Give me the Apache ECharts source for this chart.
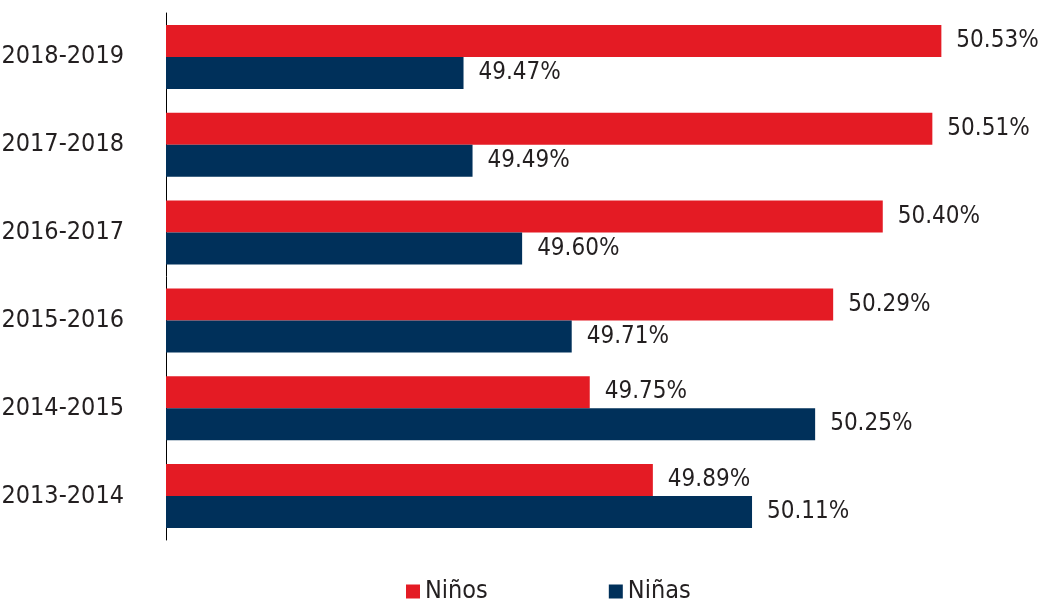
<!DOCTYPE html>
<html>
<head>
<meta charset="utf-8">
<script src="https://cdn.jsdelivr.net/npm/echarts@6/dist/echarts.min.js"></script>
<style>
html,body{margin:0;padding:0;background:#fff;}
#c{width:1043px;height:607px;}
</style>
</head>
<body>
<div id="c"></div>
<script>
const categories = ['2018-2019', '2017-2018', '2016-2017', '2015-2016', '2014-2015', '2013-2014'];
const ninos = [50.53, 50.51, 50.40, 50.29, 49.75, 49.89];
const ninas = [49.47, 49.49, 49.60, 49.71, 50.25, 50.11];
const seriesNames = ['Niños', 'Niñas'];

const FONT = '"Liberation Sans Narrow", "DejaVu Sans Condensed", sans-serif';
const TXT = '#231f20';
const chart = echarts.init(document.getElementById('c'), null, {renderer: 'canvas'});
const fmt = p => p.value.toFixed(2) + '%';
chart.setOption({
  animation: false,
  textStyle: {fontFamily: FONT},
  grid: {left: 166, right: 25, top: 13, bottom: 67, containLabel: false, outerBoundsMode: 'none'},
  legend: {
    data: seriesNames,
    left: 406,
    top: 579,
    padding: 0,
    itemWidth: 14,
    itemHeight: 14,
    itemGap: 121,
    icon: 'rect',
    textStyle: {fontFamily: FONT, fontSize: 25, color: TXT}
  },
  xAxis: {
    type: 'value',
    min: 48.81,
    max: 50.7,
    show: false,
    splitLine: {show: false}
  },
  yAxis: {
    type: 'category',
    data: categories,
    inverse: true,
    axisLine: {show: true, lineStyle: {color: '#000', width: 1}},
    axisTick: {show: false},
    axisLabel: {fontFamily: FONT, fontSize: 25, color: TXT, margin: 42}
  },
  series: [
    {
      name: seriesNames[0],
      type: 'bar',
      data: ninos,
      barWidth: 32,
      barGap: '0%',
      itemStyle: {color: '#e41b24'},
      label: {show: true, position: 'right', distance: 15, formatter: fmt, fontFamily: FONT, fontSize: 24, color: TXT}
    },
    {
      name: seriesNames[1],
      type: 'bar',
      data: ninas,
      barWidth: 32,
      barGap: '0%',
      itemStyle: {color: '#00305a'},
      label: {show: true, position: 'right', distance: 15, formatter: fmt, fontFamily: FONT, fontSize: 24, color: TXT}
    }
  ]
});
</script>
</body>
</html>
